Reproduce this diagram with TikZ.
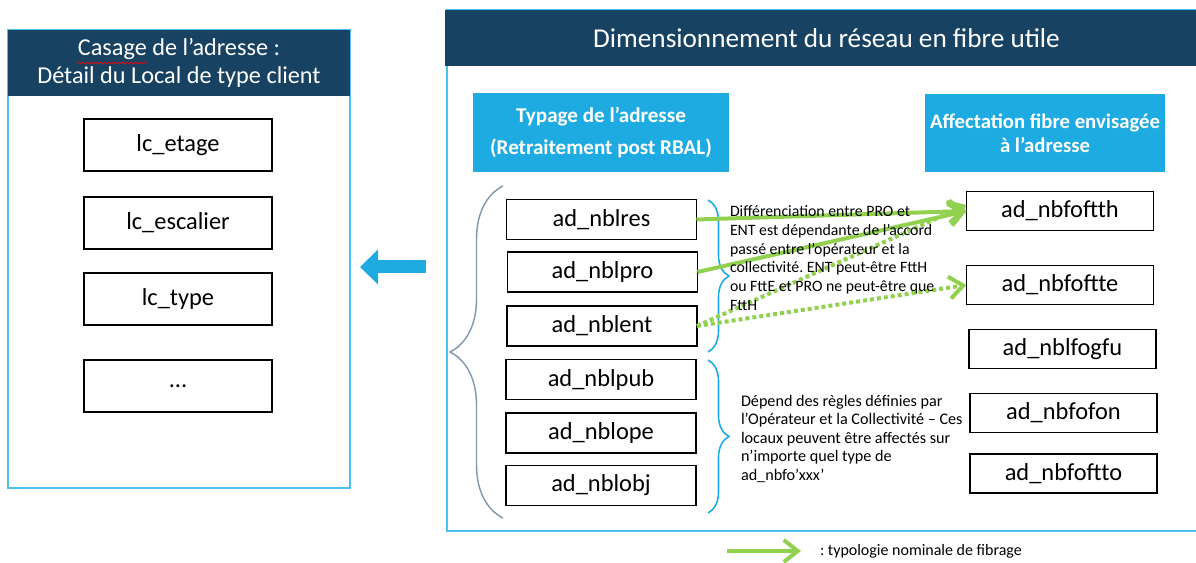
\documentclass[tikz,border=0pt]{standalone}
\usepackage{fontspec}
\setmainfont{Carlito}
\usetikzlibrary{arrows.meta,decorations.pathreplacing,decorations.pathmorphing}
\definecolor{HeadBlue}{RGB}{24,66,98}
\definecolor{SkyBlue}{RGB}{30,171,226}
\definecolor{FrameBlue}{RGB}{78,190,236}
\definecolor{FibreGreen}{RGB}{146,208,80}
\definecolor{BraceGrey}{RGB}{125,152,176}
\frenchspacing

\begin{document}
\begin{tikzpicture}[x=0.02cm,y=-0.02cm]
				\tikzstyle{every node}=[inner sep=0pt, outer sep=0pt];
				\tikzstyle{field}=[draw, line width=1pt, minimum width=3.8cm, minimum height=0.8cm, font=\fontsize{13.9}{16}\selectfont];
				\tikzstyle{localbox}=[field, minimum width=3.76cm, minimum height=1.04cm];
				\tikzstyle{fibrebox}=[field, minimum width=3.74cm, minimum height=0.78cm];
				\tikzstyle{header}=[fill=HeadBlue, text=white, align=center];
				\tikzstyle{typebox}=[fill=SkyBlue, text=white, align=center, font=\bfseries];
				\tikzstyle{frame}=[draw=FrameBlue, line width=1.2pt];
				\tikzstyle{note}=[align=left, anchor=north west];
				\tikzstyle{fibre}=[draw=FibreGreen, line width=0.08cm, -{Straight Barb[length=0.28cm, width=0.44cm]}];
				\tikzstyle{fibredot}=[fibre, dash pattern=on 0.08cm off 0.06cm];
				\useasboundingbox (0,0) rectangle (1196,563);
				\clip (0,0) rectangle (1196,563);
				\draw [frame] (8,30) rectangle (350,488);
				\node [header, minimum width=6.84cm, minimum height=1.32cm, text depth=0.1cm, font=\fontsize{13.8}{15.9}\selectfont] (lhead) at (179,63) {Casage de l’adresse :\\Détail du Local de type client};
				\draw [red, line width=0.4pt, decorate, decoration={snake, amplitude=0.5pt, segment length=2.5pt}] (77,63) -- (147,63);
				\node [localbox] (etage) at (178,145) {lc\_etage};
				\node [localbox] (escalier) at (178,223) {lc\_escalier};
				\node [localbox] (type) at (178,299) {lc\_type};
				\node [localbox] (suite) at (178,386) {...};
				\draw [frame] (447,10) rectangle (1210,531);
				\node [header, minimum width=15.26cm, minimum height=1.12cm, font=\fontsize{15.5}{17}\selectfont] (rhead) at (826.5,38) {Dimensionnement du réseau en fibre utile};
				\coordinate (bigfrom) at (426,267);
				\coordinate (bigto) at (360,267);
				\draw [SkyBlue, line width=0.26cm, -{Triangle[length=0.36cm, width=0.68cm]}] (bigfrom) -- (bigto);
				\node [typebox, minimum width=5.12cm, minimum height=1.58cm, font=\bfseries\fontsize{12}{18}\selectfont] (typage) at (601,132.5) {Typage de l’adresse\\(Retraitement post RBAL)};
				\node [typebox, minimum width=4.8cm, minimum height=1.56cm, font=\bfseries\fontsize{11.8}{13.6}\selectfont] (affect) at (1045,133) {Affectation fibre envisagée\\à l’adresse};
				\node [field] (nblres) at (601.5,219.5) {ad\_nblres};
				\node [field] (nblpro) at (602.5,272) {ad\_nblpro};
				\node [field] (nblent) at (602,326) {ad\_nblent};
				\node [field] (nblpub) at (601,379.5) {ad\_nblpub};
				\node [field] (nblope) at (601,433) {ad\_nblope};
				\node [field] (nblobj) at (601,485.5) {ad\_nblobj};
				\node [fibrebox] (nbfoftth) at (1060,211) {ad\_nbfoftth};
				\node [fibrebox] (nbfoftte) at (1060,285) {ad\_nbfoftte};
				\node [fibrebox] (nblfogfu) at (1062.5,349) {ad\_nblfogfu};
				\node [fibrebox] (nbfofon) at (1063.5,413) {ad\_nbfofon};
				\node [fibrebox] (nbfoftto) at (1063.5,473.5) {ad\_nbfoftto};
				\draw [BraceGrey, line width=0.8pt, decorate, decoration={brace, amplitude=1.06cm}] (503,518) -- (503,186);
				\draw [SkyBlue, line width=0.9pt, decorate, decoration={brace, amplitude=0.42cm}] (708,200) -- (708,352);
				\draw [SkyBlue, line width=0.9pt, decorate, decoration={brace, amplitude=0.42cm}] (708,360) -- (708,513);
				\draw [fibre] (nblres.east) -- (nbfoftth.west);
				\draw [fibre] (nblpro.east) -- (nbfoftth.west);
				\draw [fibredot] (nblent.east) -- ([yshift=3.4pt]nbfoftth.west);
				\draw [fibredot] (nblent.east) -- (nbfoftte.west);
				\node [note, font=\fontsize{9}{10.6}\selectfont] (accord) at (730,206) {Différenciation entre PRO et\\ENT est dépendante de l’accord\\passé entre l’opérateur et la\\collectivité. ENT peut-être FttH\\ou FttE et PRO ne peut-être que\\FttH};
				\node [note, font=\fontsize{9.2}{10.5}\selectfont] (regles) at (741,395) {Dépend des règles définies par\\l’Opérateur et la Collectivité – Ces\\locaux peuvent être affectés sur\\n’importe quel type de\\ad\_nbfo’xxx’};
				\coordinate (legfrom) at (727,551);
				\coordinate (legto) at (801,551);
				\draw [fibre] (legfrom) -- (legto);
				\node [anchor=west, font=\fontsize{9.1}{10}\selectfont] (legend) at (820,551) {: typologie nominale de fibrage};
			\end{tikzpicture}
\end{document}
